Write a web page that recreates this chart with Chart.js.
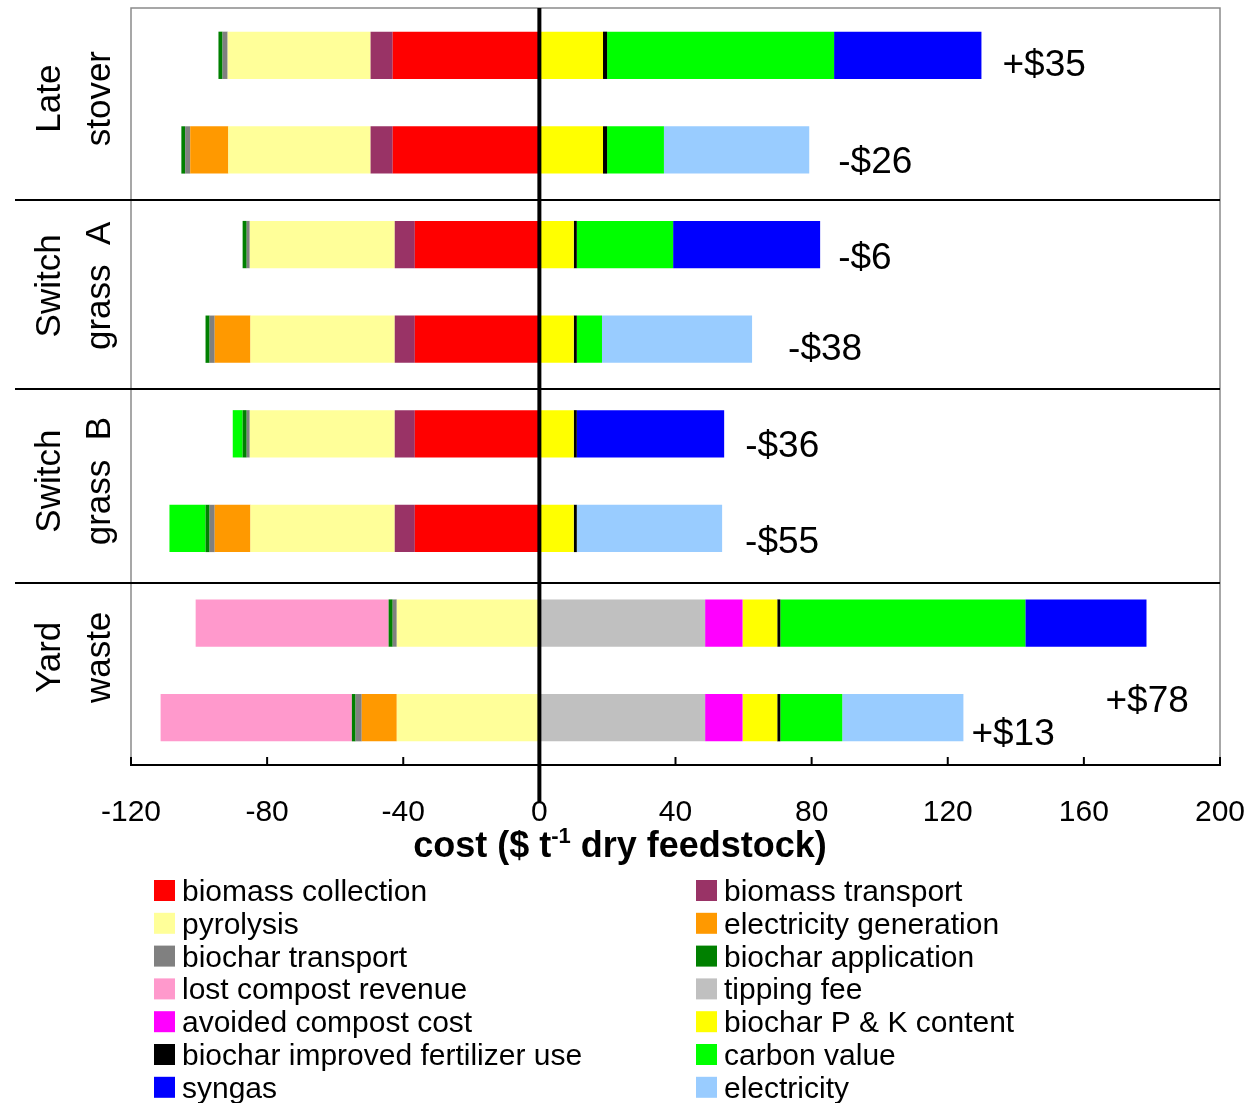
<!DOCTYPE html>
<html>
<head>
<meta charset="utf-8">
<script src="https://cdn.jsdelivr.net/npm/chart.js@4.4.0/dist/chart.umd.min.js"></script>
<style>
  html, body { margin: 0; padding: 0; background: #ffffff; }
  #wrap { width: 1250px; height: 1103px; }
</style>
</head>
<body>
<div id="wrap"><canvas id="chart" width="1250" height="1103"></canvas></div>
<script>
// Feedstock scenarios, top to bottom (two bars per feedstock: syngas / electricity)
const categories = [
  'Late stover, syngas', 'Late stover, electricity',
  'Switch grass A, syngas', 'Switch grass A, electricity',
  'Switch grass B, syngas', 'Switch grass B, electricity',
  'Yard waste, syngas', 'Yard waste, electricity'
];
const groupNames = [['Late', 'stover'], ['Switch', 'grass  A'], ['Switch', 'grass  B'], ['Yard', 'waste']];

// Cost components, $ per dry tonne of feedstock (negative = cost, positive = revenue)
const biomassCollection   = [-43.1, -43.1, -36.6, -36.6, -36.6, -36.6, 0, 0];
const biomassTransport    = [-6.5, -6.5, -5.9, -5.9, -5.9, -5.9, 0, 0];
const pyrolysis           = [-42.0, -41.8, -42.6, -42.4, -42.6, -42.4, -41.9, -41.9];
const electricityGen      = [0, -11.2, 0, -10.5, 0, -10.5, 0, -10.3];
const biocharTransport    = [-1.5, -1.5, -0.9, -1.5, -0.9, -1.5, -1.2, -1.8];
const biocharApplication  = [-1.2, -1.1, -1.2, -1.2, -1.2, -1.2, -1.2, -1.1];
const lostCompostRevenue  = [0, 0, 0, 0, 0, 0, -56.7, -56.2];
const tippingFee          = [0, 0, 0, 0, 0, 0, 48.7, 48.7];
const avoidedCompostCost  = [0, 0, 0, 0, 0, 0, 11.0, 11.0];
const biocharPK           = [18.7, 18.7, 10.1, 10.1, 10.1, 10.1, 10.2, 10.2];
const biocharFertilizer   = [1.2, 1.2, 0.9, 0.9, 0.9, 0.9, 0.9, 0.9];
const carbonValue         = [66.7, 16.7, 28.3, 7.4, -2.9, -10.6, 72.0, 18.2];
const syngas              = [43.3, 0, 43.2, 0, 43.3, 0, 35.6, 0];
const electricity         = [0, 42.7, 0, 44.1, 0, 42.7, 0, 35.6];

// Net result printed beside each bar
const netLabels = ['+$35', '-$26', '-$6', '-$38', '-$36', '-$55', '+$78', '+$13'];
const xTicks = [-120, -80, -40, 0, 40, 80, 120, 160, 200];

const FONT = '"Liberation Sans", Arial, Helvetica, sans-serif';

const series = [
  ['biomass collection', biomassCollection, '#ff0000'],
  ['biomass transport', biomassTransport, '#993366'],
  ['pyrolysis', pyrolysis, '#ffff99'],
  ['electricity generation', electricityGen, '#ff9900'],
  ['biochar transport', biocharTransport, '#808080'],
  ['biochar application', biocharApplication, '#008000'],
  ['lost compost revenue', lostCompostRevenue, '#ff99cc'],
  ['tipping fee', tippingFee, '#c0c0c0'],
  ['avoided compost cost', avoidedCompostCost, '#ff00ff'],
  ['biochar P & K content', biocharPK, '#ffff00'],
  ['biochar improved fertilizer use', biocharFertilizer, '#000000'],
  ['carbon value', carbonValue, '#00ff00'],
  ['syngas', syngas, '#0000ff'],
  ['electricity', electricity, '#99ccff']
];

// Label placement around each bar end (pixels)
const netLabelShift = [[21, 8], [29, 10], [18, 11], [36, 8], [21, 10], [23, 12], [-41, 76], [8, 14]];
const groupLabelShift = [-4, -6, 0, -13];
const separatorAt = [1.53, 3.53, 5.58];

const decorations = {
  id: 'decorations',
  afterDatasetsDraw(chart) {
    const { ctx, chartArea: a, scales: { x, y } } = chart;
    ctx.save();

    // plot frame
    ctx.strokeStyle = '#8a8a8a';
    ctx.lineWidth = 1.5;
    ctx.beginPath();
    ctx.moveTo(a.left, a.bottom);
    ctx.lineTo(a.left, a.top);
    ctx.lineTo(a.right, a.top);
    ctx.lineTo(a.right, a.bottom);
    ctx.stroke();

    // feedstock separators
    ctx.strokeStyle = '#000';
    ctx.lineWidth = 2;
    separatorAt.forEach(v => {
      const py = Math.round(y.getPixelForValue(v));
      ctx.beginPath();
      ctx.moveTo(15, py);
      ctx.lineTo(a.right, py);
      ctx.stroke();
    });

    // inward tick marks
    ctx.lineWidth = 2;
    xTicks.forEach(v => {
      const px = x.getPixelForValue(v);
      ctx.beginPath();
      ctx.moveTo(px, a.bottom);
      ctx.lineTo(px, a.bottom - 8);
      ctx.stroke();
    });

    // zero line
    const x0 = x.getPixelForValue(0);
    ctx.lineWidth = 4;
    ctx.beginPath();
    ctx.moveTo(x0, a.top);
    ctx.lineTo(x0, 802);
    ctx.stroke();

    // net values
    ctx.fillStyle = '#000';
    ctx.font = '37px ' + FONT;
    ctx.textAlign = 'left';
    ctx.textBaseline = 'alphabetic';
    categories.forEach((c, i) => {
      let end = 0;
      series.forEach(s => { if (s[1][i] > 0) end += s[1][i]; });
      const px = x.getPixelForValue(end) + netLabelShift[i][0];
      const py = y.getPixelForValue(i) + netLabelShift[i][1] + 13;
      ctx.fillText(netLabels[i], px, py);
    });

    // feedstock names, rotated
    ctx.font = '35px ' + FONT;
    ctx.textAlign = 'center';
    groupNames.forEach((lines, g) => {
      const cy = y.getPixelForValue(2 * g + 0.5) + groupLabelShift[g];
      [60, 110].forEach((bx, k) => {
        ctx.save();
        ctx.translate(bx, cy);
        ctx.rotate(-Math.PI / 2);
        ctx.fillText(lines[k], 0, 0);
        ctx.restore();
      });
    });

    // axis title with superscript
    const parts = [['cost ($ t', 'bold 36px ' + FONT, 0], ['-1', 'bold 22px ' + FONT, -14], [' dry feedstock)', 'bold 36px ' + FONT, 0]];
    let total = 0;
    parts.forEach(p => { ctx.font = p[1]; total += ctx.measureText(p[0]).width; });
    let tx = 620 - total / 2;
    ctx.textAlign = 'left';
    parts.forEach(p => {
      ctx.font = p[1];
      ctx.fillText(p[0], tx, 857 + p[2]);
      tx += ctx.measureText(p[0]).width;
    });

    // legend, two columns
    ctx.font = '30px ' + FONT;
    chart.data.datasets.forEach((ds, i) => {
      const col = i % 2, row = Math.floor(i / 2);
      const sx = col === 0 ? 154 : 696;
      const cy = 890.5 + row * 32.8;
      ctx.fillStyle = ds.backgroundColor;
      ctx.fillRect(sx, cy - 10.5, 21, 21);
      ctx.fillStyle = '#000';
      ctx.fillText(ds.label, sx + 28, cy + 10.5);
    });

    ctx.restore();
  }
};

new Chart(document.getElementById('chart'), {
  type: 'bar',
  data: {
    labels: categories,
    datasets: series.map(([label, data, color]) => ({
      label, data,
      backgroundColor: color,
      borderWidth: 0,
      barPercentage: 0.5,
      categoryPercentage: 1
    }))
  },
  options: {
    indexAxis: 'y',
    responsive: false,
    animation: false,
    layout: { padding: { left: 131, right: 30, top: 8, bottom: 278 } },
    plugins: { legend: { display: false }, tooltip: { enabled: false } },
    scales: {
      x: {
        type: 'linear',
        stacked: true,
        min: -120,
        max: 200,
        afterBuildTicks(scale) { scale.ticks = xTicks.map(v => ({ value: v })); },
        afterFit(scale) {
          scale.height = 60;
          scale.paddingLeft = 0;
          scale.paddingRight = 0;
        },
        ticks: { font: { family: FONT, size: 30 }, color: '#000', padding: 30, maxRotation: 0, autoSkip: false },
        grid: { display: false, drawTicks: false },
        border: { display: true, color: '#000', width: 2 }
      },
      y: {
        type: 'category',
        stacked: true,
        display: false
      }
    }
  },
  plugins: [decorations]
});
</script>
</body>
</html>
